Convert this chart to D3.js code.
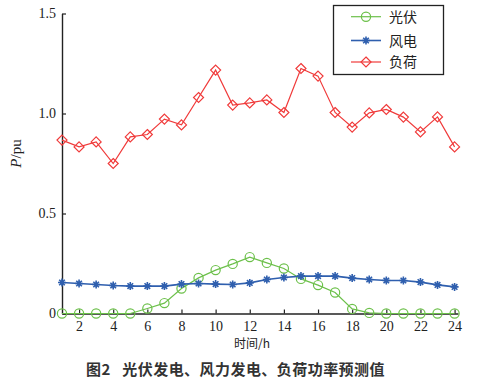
<!DOCTYPE html>
<html><head><meta charset="utf-8">
<script src="https://cdn.jsdelivr.net/npm/d3@7"></script>
<style>body{margin:0;background:#fff}svg{display:block}
.serif{font-family:"Liberation Serif","Times New Roman",serif}
.cjk{font-family:"Noto Sans CJK SC",sans-serif}
</style>
</head><body>
<script>
const hours = d3.range(1, 25);
const pv = [0,0,0,0,0,0.025,0.052,0.125,0.178,0.217,0.248,0.282,0.253,0.225,0.173,0.142,0.105,0.023,0.003,0,0,0,0,0];
const wind = [0.155,0.150,0.145,0.140,0.137,0.137,0.137,0.147,0.150,0.147,0.145,0.153,0.170,0.180,0.187,0.187,0.187,0.177,0.170,0.165,0.165,0.157,0.143,0.133];
const load = [0.867,0.833,0.858,0.750,0.883,0.895,0.972,0.943,1.080,1.217,1.042,1.053,1.068,1.005,1.225,1.187,1.005,0.932,1.003,1.020,0.982,0.908,0.983,0.833];
const xTicks = [2,4,6,8,10,12,14,16,18,20,22,24];
const yTicks = [0,0.5,1.0,1.5];
const yTickLabels = ["0","0.5","1.0","1.5"];
const seriesNames = ["光伏","风电","负荷"];
const colors = ["#6cc04a","#2f5fae","#f03a3a"];

const W = 481, H = 379;
const svg = d3.select("body").append("svg").attr("width", W).attr("height", H);
const x = d3.scaleLinear().domain([1, 24.2]).range([62, 458]);
const y = d3.scaleLinear().domain([0, 1.5]).range([313.5, 13.5]);

// axes
const xAxis = svg.append("g").attr("transform", `translate(0,${y(0)})`)
  .call(d3.axisBottom(x).tickValues(xTicks).tickSizeInner(-4).tickSizeOuter(0).tickPadding(8));
const yAxis = svg.append("g").attr("transform", `translate(${x(1)},0)`)
  .call(d3.axisLeft(y).tickValues(yTicks).tickFormat((d,i)=>yTickLabels[i]).tickSizeInner(-4).tickSizeOuter(0).tickPadding(8));
[xAxis, yAxis].forEach(g => {
  g.attr("font-family", null).attr("font-size", null);
  g.select(".domain").attr("stroke", "#222").attr("stroke-width", 1.4);
  g.selectAll(".tick line").attr("stroke", "#222").attr("stroke-width", 1.2);
  g.selectAll("text").attr("class", "serif").style("font-size", "14px").attr("fill", "#222");
});
yAxis.selectAll(".tick text").attr("dx", 2);

// axis titles
const yt = svg.append("text").attr("class", "serif").attr("transform", `translate(21,${y(0.8)}) rotate(-90)`)
  .attr("text-anchor", "middle").style("font-size", "15px").attr("fill", "#222");
yt.append("tspan").attr("font-style", "italic").text("P");
yt.append("tspan").text("/pu");
svg.append("text").attr("class", "cjk").attr("x", 252).attr("y", 348).attr("text-anchor", "middle")
  .style("font-size", "12px").attr("fill", "#222").text("时间/h");

// caption
svg.append("text").attr("class", "cjk").attr("x", 86).attr("y", 375)
  .style("font-size", "15px").style("letter-spacing", "0.45px").attr("font-weight", "bold").attr("fill", "#333")
  .attr("xml:space", "preserve").text("图2   光伏发电、风力发电、负荷功率预测值");

const line = d3.line().x((d,i) => x(hours[i])).y(d => y(d));
const data = [pv, wind, load];

function drawMarker(g, type, cx, cy, color) {
  if (type === 0) {
    g.append("circle").attr("cx", cx).attr("cy", cy).attr("r", 4.6)
      .attr("fill", "none").attr("stroke", color).attr("stroke-width", 1.2);
  } else if (type === 1) {
    const s = 4;
    const p = `M${cx-s},${cy}L${cx+s},${cy}M${cx},${cy-s}L${cx},${cy+s}` +
      `M${cx-s*0.7},${cy-s*0.7}L${cx+s*0.7},${cy+s*0.7}M${cx-s*0.7},${cy+s*0.7}L${cx+s*0.7},${cy-s*0.7}`;
    g.append("path").attr("d", p).attr("stroke", color).attr("stroke-width", 1.6).attr("fill", "none");
  } else {
    const s = 5;
    g.append("path").attr("d", `M${cx},${cy-s}L${cx+s},${cy}L${cx},${cy+s}L${cx-s},${cy}Z`)
      .attr("fill", "none").attr("stroke", color).attr("stroke-width", 1.2);
  }
}

data.forEach((vals, k) => {
  const g = svg.append("g");
  g.append("path").datum(vals).attr("d", line).attr("fill", "none")
    .attr("stroke", colors[k]).attr("stroke-width", k === 1 ? 1.6 : 1.2);
  vals.forEach((v, i) => drawMarker(g, k, x(hours[i]), y(v), colors[k]));
});

// legend
const lg = svg.append("g");
lg.append("rect").attr("x", 333.5).attr("y", 5.5).attr("width", 110).attr("height", 69)
  .attr("fill", "#fff").attr("stroke", "#222").attr("stroke-width", 1.3);
const rowsY = [16.7, 40.5, 62];
seriesNames.forEach((name, k) => {
  lg.append("line").attr("x1", 351).attr("x2", 381).attr("y1", rowsY[k]).attr("y2", rowsY[k])
    .attr("stroke", colors[k]).attr("stroke-width", k === 1 ? 1.6 : 1.2);
  drawMarker(lg, k, 366, rowsY[k], colors[k]);
  lg.append("text").attr("class", "cjk").attr("x", 389).attr("y", rowsY[k] + 5)
    .style("font-size", "14px").attr("fill", "#222").text(name);
});
</script>
</body></html>
